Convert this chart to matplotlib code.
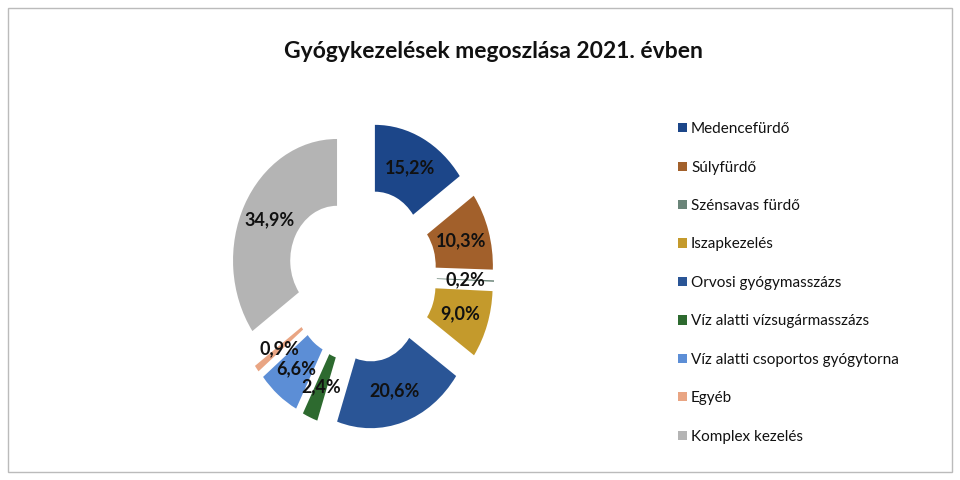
import matplotlib
matplotlib.use("Agg")
import matplotlib.pyplot as plt
from matplotlib.patches import Rectangle
import numpy as np

categories = ["Medencefürdő", "Súlyfürdő", "Szénsavas fürdő", "Iszapkezelés",
              "Orvosi gyógymasszázs", "Víz alatti vízsugármasszázs",
              "Víz alatti csoportos gyógytorna", "Egyéb", "Komplex kezelés"]
values = [15.2, 10.3, 0.2, 9.0, 20.6, 2.4, 6.6, 0.9, 34.9]
colors = ["#1C4689", "#A2602B", "#6A8478", "#C49A2C", "#2A5596",
          "#2D6A2F", "#5C8ED6", "#E9A583", "#B4B4B4"]
title = "Gyógykezelések megoszlása 2021. évben"

plt.rcParams['font.family'] = ['Lato', 'DejaVu Sans']

fig = plt.figure(figsize=(9.6, 4.8), dpi=100)
W, H = 960, 480

# chart border
fig.patches.append(Rectangle((8 / W, 8 / H), 944 / W, 464 / H, transform=fig.transFigure,
                             fill=False, edgecolor="#BBBBBB", linewidth=1.0))

cx, cy = 362, 275.5
rx, ry = 104, 121.5
lim = 1.4
ax = fig.add_axes([(cx - rx * lim) / W, (H - cy - ry * lim) / H,
                   2 * rx * lim / W, 2 * ry * lim / H])

def fmt(v):
    return f"{v:.1f}".replace('.', ',') + '%'

EX = 0.27
RING = 0.55
wedges, _ = ax.pie(values, colors=colors, startangle=90, counterclock=False,
                   explode=[EX] * len(values), radius=1.0,
                   wedgeprops=dict(width=RING, edgecolor='none'))
ax.set_aspect('auto')
ax.set_xlim(-lim, lim)
ax.set_ylim(-lim, lim)
ax.axis('off')

for w, v in zip(wedges, values):
    ang = np.deg2rad((w.theta1 + w.theta2) / 2)
    r = EX + 1.0 - RING / 2
    ax.text(r * np.cos(ang), r * np.sin(ang), fmt(v), ha='center', va='center',
            fontsize=13, fontweight='bold', color='#111111')

fig.text(493 / W, 1 - 52 / H, title, ha='center', va='center', fontsize=16.5,
         fontweight='bold', color='#111111')

leg = fig.legend(wedges, categories, loc='upper left',
                 bbox_to_anchor=(672 / W, 1 - 116 / H), frameon=False,
                 fontsize=11, handlelength=0.55, handleheight=0.55,
                 handletextpad=0.3, labelspacing=1.6, borderaxespad=0)
for t in leg.get_texts():
    t.set_color('#111111')

fig.savefig("out.png", dpi=100, facecolor='white')
